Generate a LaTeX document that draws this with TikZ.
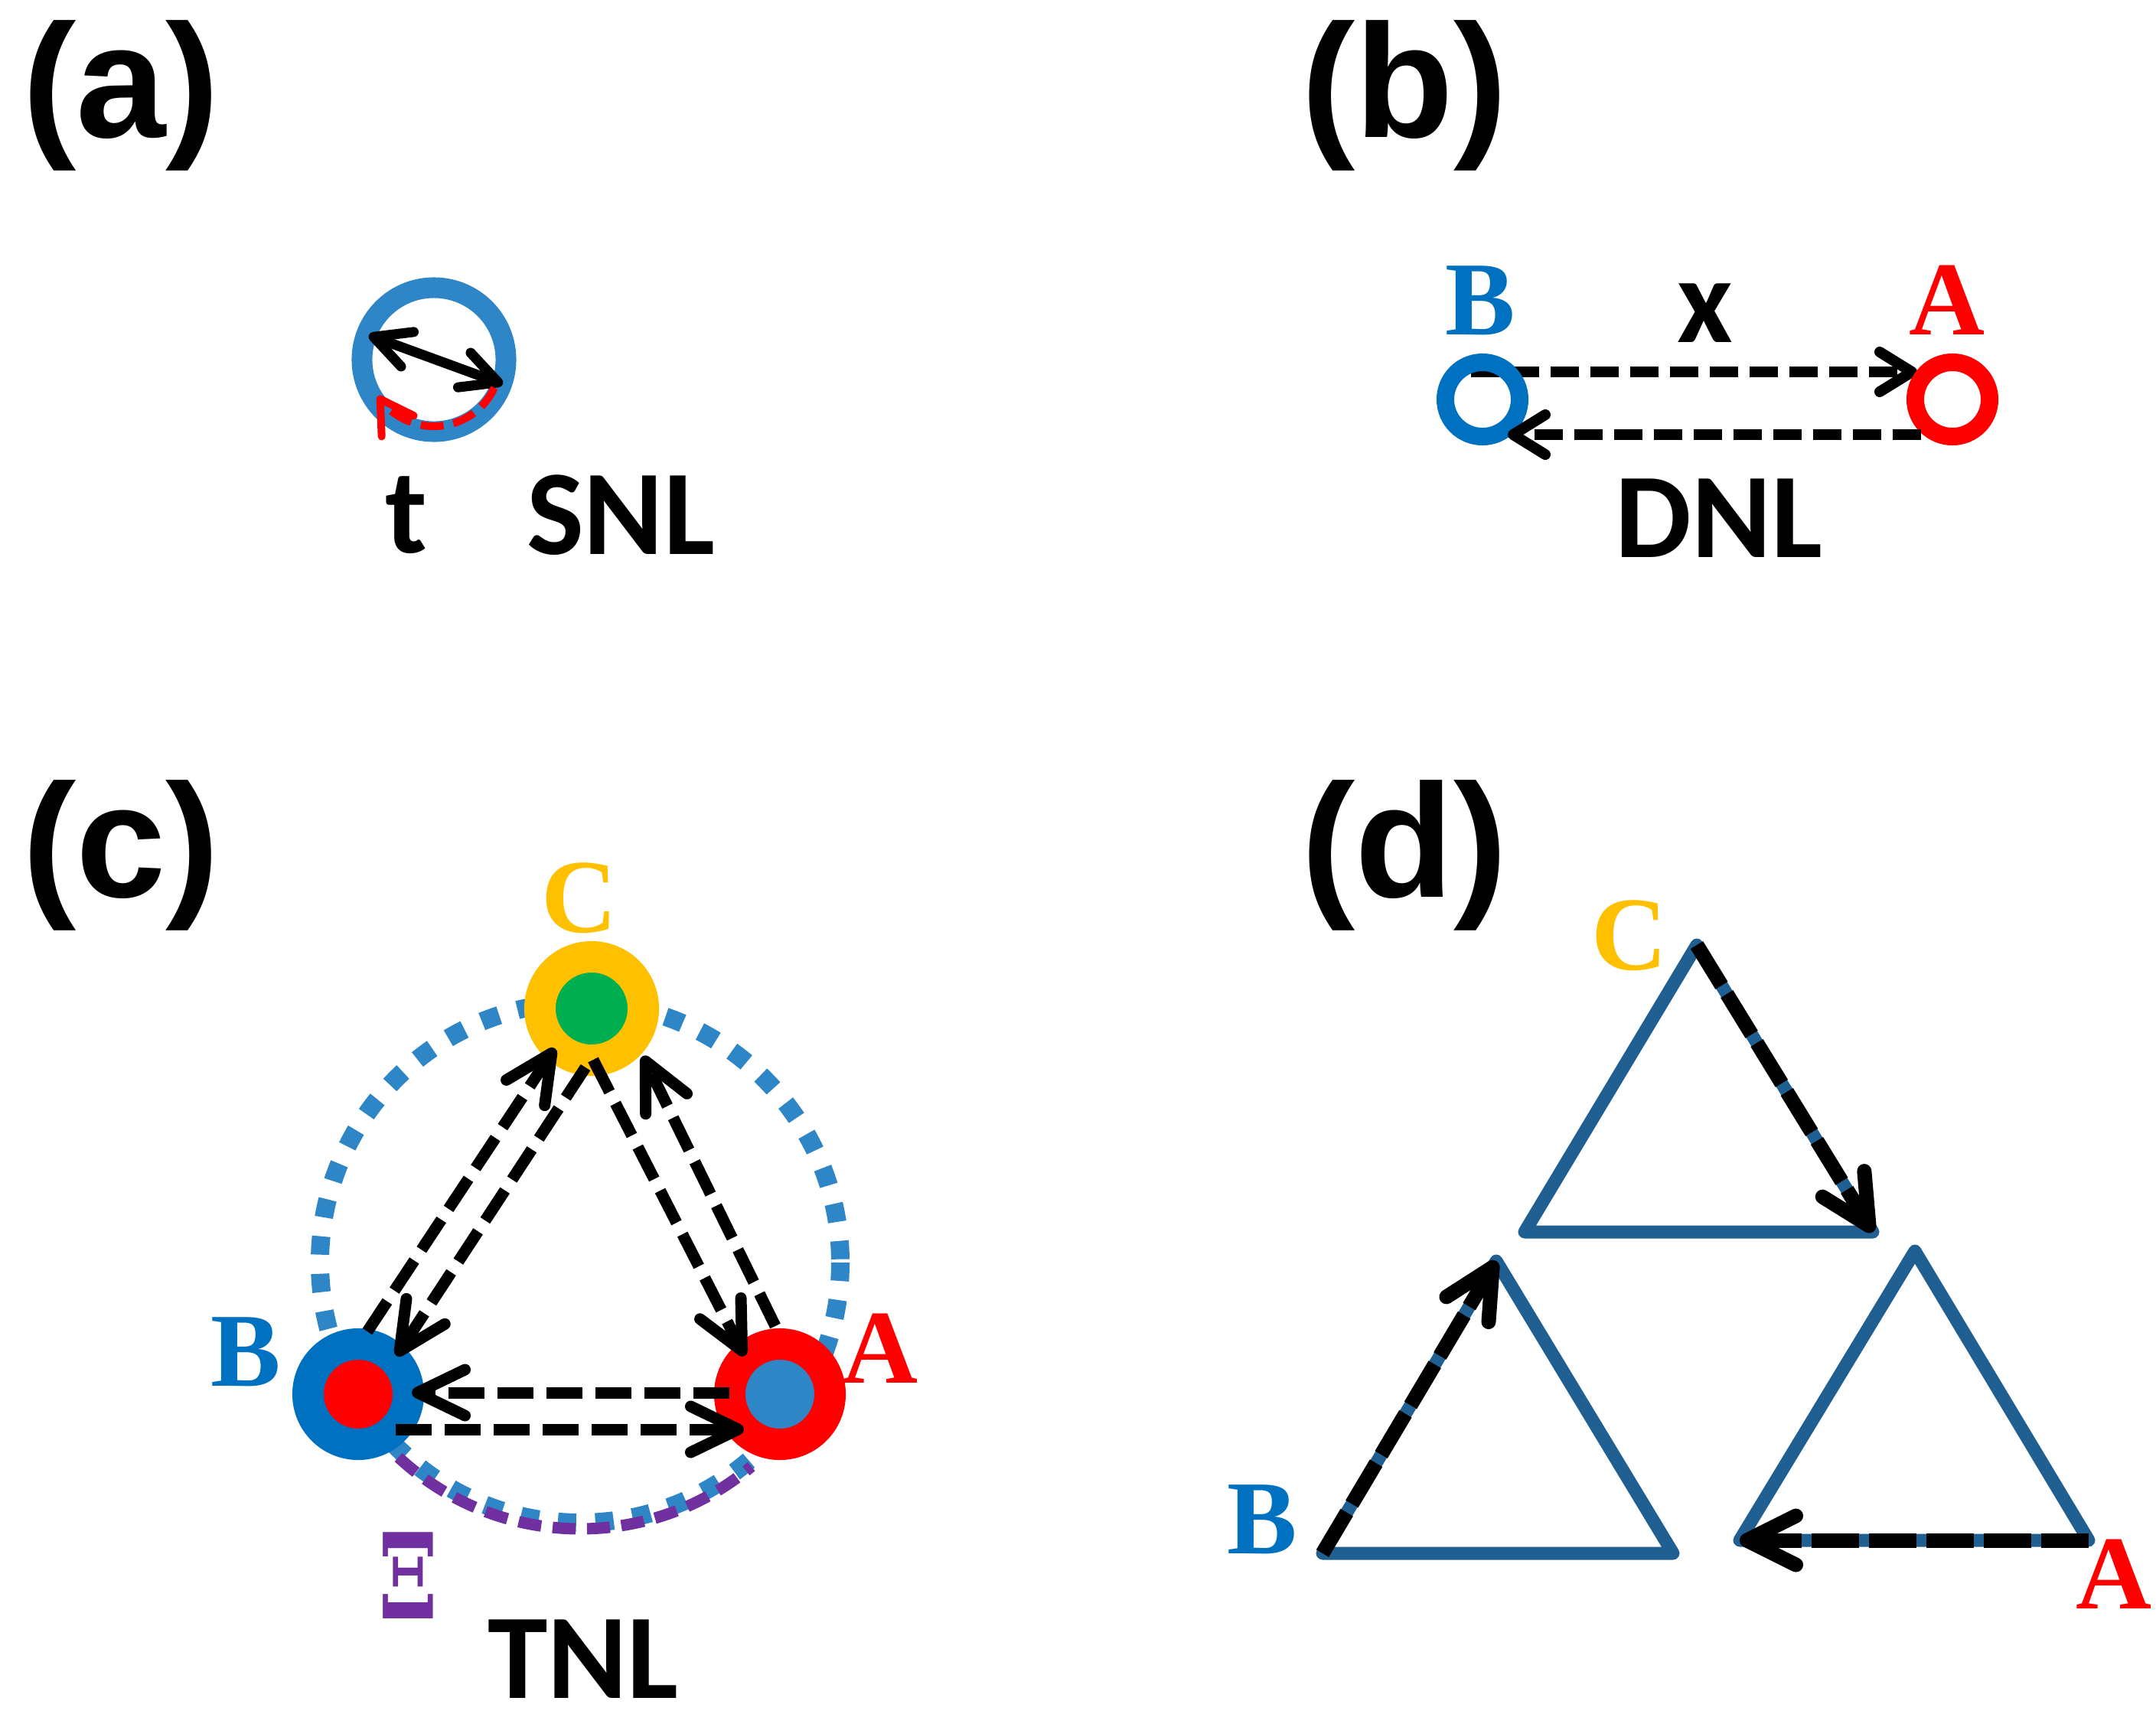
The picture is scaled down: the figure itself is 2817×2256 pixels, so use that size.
\documentclass[tikz,border=0pt]{standalone}
\usepackage{fontspec}
\setmainfont{Carlito}
\newfontfamily\labelserif{Liberation Serif}
\newfontfamily\xiserif{DejaVu Serif}
\newfontfamily\panelsans{Liberation Sans}
\usetikzlibrary{arrows.meta}
\usetikzlibrary{backgrounds}
\definecolor{officeblue}{RGB}{0,112,192}
\definecolor{steelblue}{RGB}{46,134,199}
\definecolor{gold}{RGB}{255,192,0}
\definecolor{leafgreen}{RGB}{0,176,80}
\definecolor{xipurple}{RGB}{112,48,160}
\definecolor{triblue}{RGB}{31,95,145}
\tikzset{every picture/.style={x=0.01cm,y=-0.01cm},
  panel/.style={font=\panelsans\bfseries\fontsize{60}{70}\selectfont,inner sep=0},
  word/.style={font=\bfseries\fontsize{45}{54}\selectfont,inner sep=0,anchor=base},
  site/.style={font=\labelserif\bfseries\fontsize{39}{47}\selectfont,inner sep=0,anchor=base},
  loop/.style={circle,draw,inner sep=0,minimum size=0.97cm,line width=0.23cm},
  ring/.style={circle,draw,inner sep=0,minimum size=1.31cm,line width=0.41cm},
  link/.style={line width=0.14cm,dash pattern=on 0.37cm off 0.15cm,-{Straight Barb[length=0.42cm,width=0.52cm,round]}},
  hop/.style={line width=0.15cm,dash pattern=on 0.47cm off 0.17cm,-{Straight Barb[length=0.62cm,width=0.6cm,round]}},
  tri/.style={triblue,line width=0.17cm,line join=round,line cap=round},
  flow/.style={line width=0.19cm,dash pattern=on 0.62cm off 0.13cm,-{Straight Barb[length=0.64cm,width=0.64cm,round]}}}

\begin{document}
\begin{tikzpicture}
\useasboundingbox (0,0) rectangle (2817,2256);

\node[panel] (pa) at (158,125) {(a)};
\node[circle,draw=steelblue,inner sep=0,minimum size=1.88cm,line width=0.27cm] (aC) at (567,470) {};
\draw[line width=0.13cm,{Straight Barb[length=0.47cm,width=0.48cm,round]}-{Straight Barb[length=0.47cm,width=0.48cm,round]}] ([shift={(-85,-32)}]aC.center) -- ([shift={(90,32)}]aC.center);
\draw[red,line width=0.1cm,dash pattern=on 0.3cm off 0.13cm,-{Straight Barb[length=0.42cm,width=0.5cm,round]}] ([shift={(25:87)}]aC.center) arc[start angle=25,end angle=147,radius=87];
\node[word] (at) at (531,722) {t};
\node[word] (asnl) at (811,724) {SNL};

\node[panel] (pb) at (1835,125) {(b)};
\node[loop,draw=officeblue] (bB) at (1937,522) {};
\node[loop,draw=red] (bA) at (2551,522) {};
\begin{pgfonlayer}{background}
\draw[link] ([shift={(-15,-36)}]bB.center) -- ([shift={(-46,-36)}]bA.center);
\end{pgfonlayer}
\draw[link] ([shift={(-41,46)}]bA.center) -- ([shift={(33,46)}]bB.center);
\node[site,officeblue] (bBl) at (1934,437) {B};
\node[site,red] (bAl) at (2544,437) {A};
\node[word] (bx) at (2228,447) {x};
\node[word] (bdnl) at (2246,728) {DNL};

\node[panel] (pc) at (158,1118) {(c)};
\coordinate (co) at (758,1650);
\draw[steelblue,line width=0.24cm,dash pattern=on 0.24cm off 0.25cm] (co) circle[radius=340];
\draw[xipurple,line width=0.15cm,dash pattern=on 0.3cm off 0.15cm] ([shift={(133:348)}]co) arc[start angle=133,end angle=50,radius=348];
\node[ring,draw=officeblue,fill=red] (cB) at (468,1822) {};
\node[ring,draw=red,fill=steelblue] (cA) at (1019,1822) {};
\node[ring,draw=gold,fill=leafgreen,minimum size=1.35cm] (cC) at (773,1318) {};
\draw[hop] ([shift={(12,-82)}]cB.center) -- ([shift={(-48,52)}]cC.center);
\draw[hop] ([shift={(-8,77)}]cC.center) -- ([shift={(50,-50)}]cB.center);
\draw[hop] ([shift={(2,67)}]cC.center) -- ([shift={(-46,-50)}]cA.center);
\draw[hop] ([shift={(-6,-89)}]cA.center) -- ([shift={(67,62)}]cC.center);
\draw[hop] ([shift={(-66,-2)}]cA.center) -- ([shift={(70,-2)}]cB.center);
\draw[hop] ([shift={(49,46)}]cB.center) -- ([shift={(-47,46)}]cA.center);
\node[site,gold] (cCl) at (757,1218) {C};
\node[site,officeblue] (cBl) at (321,1811) {B};
\node[site,red] (cAl) at (1150,1807) {A};
\node[site,xipurple,font=\xiserif\bfseries\fontsize{44}{53}\selectfont] (cxi) at (534,2115) {\scalebox{0.72}[1]{Ξ}};
\node[word] (ctnl) at (762,2219) {TNL};

\node[panel] (pd) at (1835,1118) {(d)};
\coordinate (t1) at (2217,1235);
\coordinate (t2) at (1992,1610);
\coordinate (t3) at (2447,1610);
\coordinate (l1) at (1955,1648);
\coordinate (l2) at (1728,2030);
\coordinate (l3) at (2186,2030);
\coordinate (r1) at (2502,1635);
\coordinate (r2) at (2273,2013);
\coordinate (r3) at (2729,2013);
\draw[tri] (t1) -- (t2) -- (t3) -- cycle;
\draw[tri] (l1) -- (l2) -- (l3) -- cycle;
\draw[tri] (r1) -- (r2) -- (r3) -- cycle;
\draw[flow] (t1) -- (t3);
\draw[flow] (l2) -- (l1);
\draw[flow] (r3) -- (r2);
\node[site,gold] (dCl) at (2129,1267) {C};
\node[site,officeblue] (dBl) at (1649,2030) {B};
\node[site,red] (dAl) at (2762,2102) {A};
\end{tikzpicture}
\end{document}
